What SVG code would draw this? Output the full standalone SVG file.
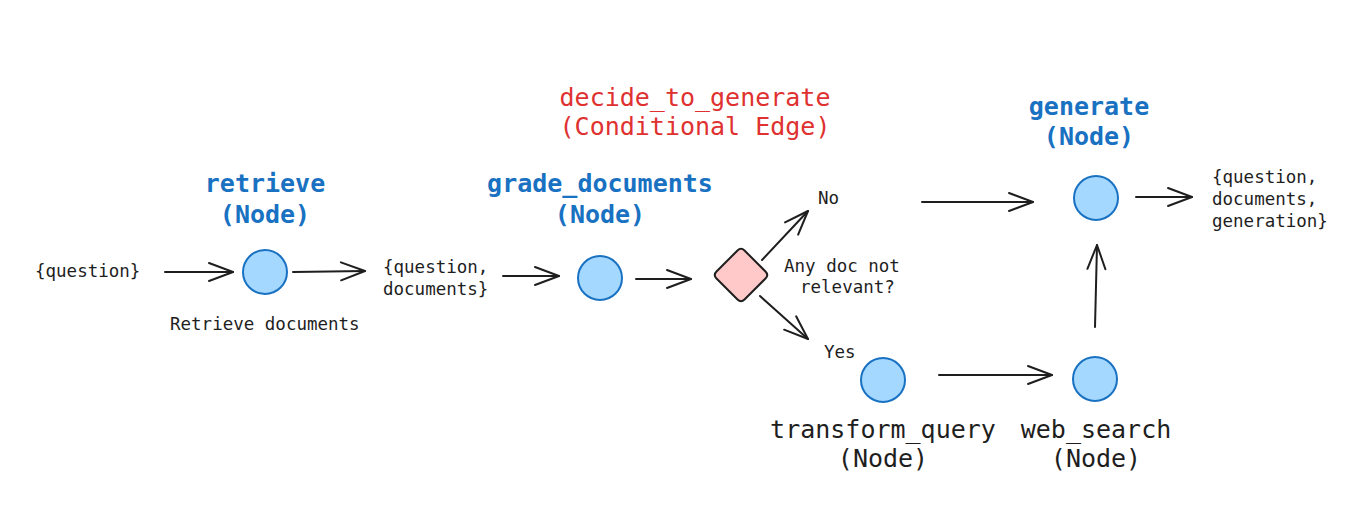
<svg xmlns="http://www.w3.org/2000/svg" width="1369" height="509" viewBox="0 0 1369 509">
<defs>
<style>
.bg{fill:#ffffff}
.node{fill:#a5d8ff;stroke:#1971c2;stroke-width:2}
.dia{fill:#ffc9c9;stroke:#1e1e1e;stroke-width:2;stroke-linejoin:round}
.edge{fill:none;stroke:#1e1e1e;stroke-width:2;stroke-linecap:round}
.sm{font-family:"DejaVu Sans Mono","Liberation Mono",monospace;font-size:17.5px;fill:#1e1e1e}
.big{font-family:"DejaVu Sans Mono","Liberation Mono",monospace;font-size:25px;text-anchor:middle}
.blue{fill:#1971c2;font-weight:bold}
.red{fill:#e03131}
.blk{fill:#1e1e1e}
</style>
<marker id="ah" viewBox="0 0 30 24" markerWidth="30" markerHeight="24" refX="27" refY="12" orient="auto" markerUnits="userSpaceOnUse">
<path d="M3 3 L27 12 L3 21" fill="none" stroke="#1e1e1e" stroke-width="2" stroke-linecap="round" stroke-linejoin="round"/>
</marker>
</defs>
<rect class="bg" x="0" y="0" width="1369" height="509"/>

<g id="connectors">
<path class="edge" d="M165 272 L233 272" marker-end="url(#ah)"/>
<path class="edge" d="M293 272 L365 271" marker-end="url(#ah)"/>
<path class="edge" d="M503 276 L559 276" marker-end="url(#ah)"/>
<path class="edge" d="M636 279 L691 279" marker-end="url(#ah)"/>
<path class="edge" d="M762 260 L808 211" marker-end="url(#ah)"/>
<path class="edge" d="M760 296 L808 339" marker-end="url(#ah)"/>
<path class="edge" d="M922 202 L1033 202" marker-end="url(#ah)"/>
<path class="edge" d="M1136 197 L1192 197" marker-end="url(#ah)"/>
<path class="edge" d="M939 375 L1052 375" marker-end="url(#ah)"/>
<path class="edge" d="M1095 327 L1097 245" marker-end="url(#ah)"/>
</g>

<g id="input">
<text class="sm" x="35" y="277">{question}</text>
</g>

<g id="retrieve">
<text class="big blue" x="265" y="192">retrieve</text>
<text class="big blue" x="265" y="223">(Node)</text>
<circle class="node" cx="265" cy="272" r="22"/>
<text class="sm" x="170" y="330">Retrieve documents</text>
</g>

<g id="state-docs">
<text class="sm" x="383" y="273">{question,</text>
<text class="sm" x="383" y="295">documents}</text>
</g>

<g id="grade_documents">
<text class="big blue" x="600" y="192">grade_documents</text>
<text class="big blue" x="600" y="223">(Node)</text>
<circle class="node" cx="600" cy="278" r="22"/>
</g>

<g id="decide_to_generate">
<text class="big red" x="695" y="106">decide_to_generate</text>
<text class="big red" x="695" y="135">(Conditional Edge)</text>
<path class="dia" d="M744.5 250.5 L765.5 271.5 Q769 275 765.5 278.5 L744.5 299.5 Q741 303 737.5 299.5 L716.5 278.5 Q713 275 716.5 271.5 L737.5 250.5 Q741 247 744.5 250.5 Z"/>
<text class="sm" x="784" y="272">Any doc not</text>
<text class="sm" x="800" y="293">relevant?</text>
<text class="sm" x="818" y="204">No</text>
<text class="sm" x="824" y="358">Yes</text>
</g>

<g id="generate">
<text class="big blue" x="1089" y="115">generate</text>
<text class="big blue" x="1089" y="145">(Node)</text>
<circle class="node" cx="1096" cy="198" r="22"/>
</g>

<g id="output">
<text class="sm" x="1212" y="183">{question,</text>
<text class="sm" x="1212" y="205">documents,</text>
<text class="sm" x="1212" y="227">generation}</text>
</g>

<g id="transform_query">
<circle class="node" cx="883" cy="380" r="22"/>
<text class="big blk" x="883" y="438">transform_query</text>
<text class="big blk" x="883" y="467">(Node)</text>
</g>

<g id="web_search">
<circle class="node" cx="1095" cy="379" r="22"/>
<text class="big blk" x="1096" y="438">web_search</text>
<text class="big blk" x="1096" y="467">(Node)</text>
</g>
</svg>
